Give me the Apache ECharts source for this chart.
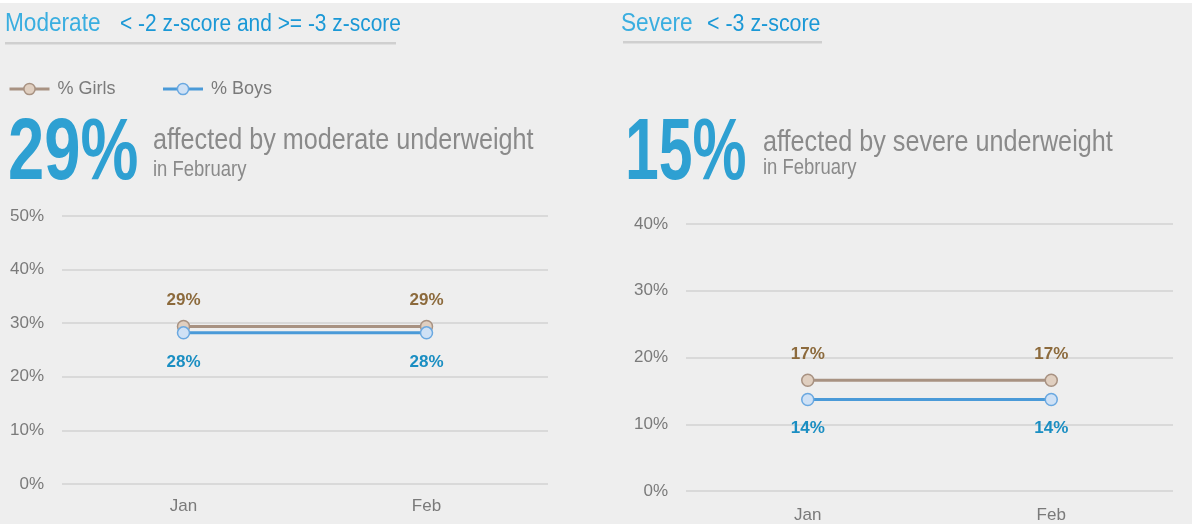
<!DOCTYPE html>
<html><head><meta charset="utf-8">
<script src="https://cdn.jsdelivr.net/npm/echarts@6/dist/echarts.min.js"></script>
<style>html,body{margin:0;padding:0;background:#fff;}#c{position:absolute;left:0;top:3px;width:1192px;height:521px;background:#eeeeee;}</style>
</head><body><div id="c"></div>
<script>
const categories = ['Jan', 'Feb'];
const seriesNames = ['% Girls', '% Boys'];
const moderateGirls = [29.4, 29.4];
const moderateBoys = [28.2, 28.2];
const severeGirls = [16.6, 16.6];
const severeBoys = [13.7, 13.7];
const moderateTicks = {min: 0, max: 50, interval: 10};
const severeTicks = {min: 0, max: 40, interval: 10};
const moderateHeadline = '29%';
const severeHeadline = '15%';
const titles = ['Moderate', '< -2 z-score and >= -3 z-score', 'Severe', '< -3 z-score'];
const subtitles = ['affected by moderate underweight', 'affected by severe underweight', 'in February'];

const chart = echarts.init(document.getElementById('c'));
const girlsLine = '#a89282', girlsFill = '#e0cfc0', girlsLabel = '#8c6a3c';
const boysLine = '#4a9ad8', boysFill = '#cfe1f5', boysLabel = '#1a8ec2';
const axisFont = 'Liberation Sans';
const NX = 0.84; // condensed look

function mkSeries(name, data, idx, isGirls) {
  return {
    name, type: 'line', data, xAxisIndex: idx, yAxisIndex: idx,
    symbol: 'circle', symbolSize: 12,
    lineStyle: {width: 3, color: isGirls ? girlsLine : boysLine},
    itemStyle: {color: isGirls ? girlsFill : boysFill, borderColor: isGirls ? girlsLine : '#6aa8e0', borderWidth: 1.5},
    label: {show: true, position: isGirls ? 'top' : 'bottom', distance: isGirls ? 11 : 14,
      formatter: p => Math.round(p.value) + '%', color: isGirls ? girlsLabel : boysLabel,
      fontFamily: axisFont, fontWeight: 'bold', fontSize: 17},
    emphasis: {disabled: true}, animation: false
  };
}
function yAx(idx, t) {
  return {type: 'value', gridIndex: idx, min: t.min, max: t.max, interval: t.interval,
    axisLabel: {formatter: '{value}%', color: '#7a7a7a', fontSize: 17, fontFamily: axisFont, margin: 18},
    axisLine: {show: false}, axisTick: {show: false},
    splitLine: {lineStyle: {color: '#d9d9d9', width: 2}}};
}
function xAx(idx, m) {
  return {type: 'category', gridIndex: idx, data: categories, boundaryGap: true,
    axisLabel: {color: '#7a7a7a', fontSize: 17, fontFamily: axisFont, margin: m},
    axisLine: {show: false}, axisTick: {show: false}};
}
function txt(x, y, text, size, color, weight, sx) {
  return {type: 'text', x, y, scaleX: sx || NX, scaleY: 1, originX: 0, originY: 0, silent: true,
    style: {text, fontSize: size, fill: color, fontFamily: axisFont, fontWeight: weight || 'normal', textVerticalAlign: 'middle'}};
}

chart.setOption({
  animation: false,
  backgroundColor: '#eeeeee',
  grid: [
    {left: 62, right: 644, top: 213, bottom: 40},
    {left: 686, right: 19, top: 221, bottom: 33}
  ],
  xAxis: [xAx(0, 14), xAx(1, 16)],
  yAxis: [yAx(0, moderateTicks), yAx(1, severeTicks)],
  legend: {data: seriesNames, left: 8, top: 77, padding: 0, itemWidth: 40, itemHeight: 14, itemGap: 46,
    lineStyle: {width: 3}, itemStyle: {borderWidth: 1.5},
    textStyle: {color: '#7a7a7a', fontSize: 18, fontFamily: axisFont, padding: [0, 0, 0, 3]}, selectedMode: false},
  series: [
    mkSeries(seriesNames[0], moderateGirls, 0, true),
    mkSeries(seriesNames[1], moderateBoys, 0, false),
    mkSeries(seriesNames[0], severeGirls, 1, true),
    mkSeries(seriesNames[1], severeBoys, 1, false)
  ],
  graphic: [
    txt(5, 21, titles[0], 26, '#3aaee0', 'normal', 0.87),
    txt(120, 22, titles[1], 23, '#1a98d6', 'normal', 0.91),
    {type: 'rect', shape: {x: 5, y: 39, width: 391, height: 2.5}, style: {fill: '#cfcfcf'}, silent: true},
    txt(621, 21, titles[2], 26, '#3aaee0', 'normal', 0.87),
    txt(707, 22, titles[3], 23, '#1a98d6', 'normal', 0.93),
    {type: 'rect', shape: {x: 623, y: 38, width: 199, height: 2.5}, style: {fill: '#cfcfcf'}, silent: true},
    txt(8, 152, moderateHeadline, 88, '#2ea0d2', 'bold', 0.74),
    txt(153, 138, subtitles[0], 30, '#8a8a8a'),
    txt(153, 167, subtitles[2], 22, '#8a8a8a'),
    txt(625, 152, severeHeadline, 88, '#2ea0d2', 'bold', 0.69),
    txt(763, 140, subtitles[1], 30, '#8a8a8a'),
    txt(763, 165, subtitles[2], 22, '#8a8a8a')
  ]
});
</script></body></html>
